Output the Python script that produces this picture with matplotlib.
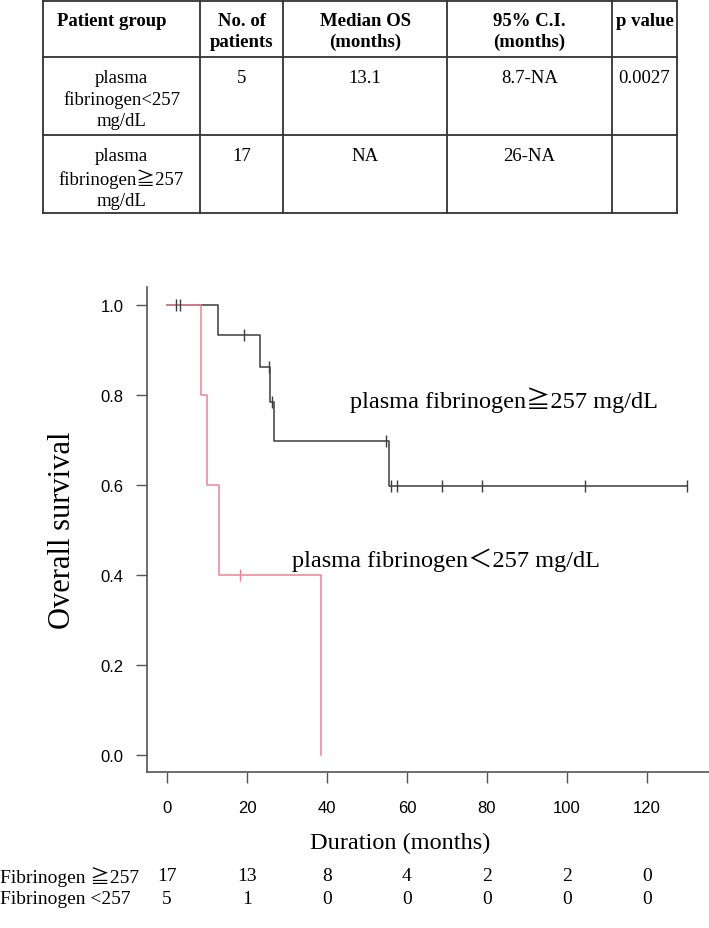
import matplotlib
matplotlib.use("Agg")

import matplotlib.pyplot as plt

# ── data ──────────────────────────────────────────────────────────────────────
TABLE_HEADER = ["Patient group", "No. of\npatients", "Median OS\n(months)",
                "95% C.I.\n(months)", "p value"]
TABLE_ROW_LOW  = ["plasma\nfibrinogen<257\nmg/dL", "5", "13.1", "8.7-NA", "0.0027"]
TABLE_ROW_HIGH = ["plasma\nfibrinogen≧257\nmg/dL", "17", "NA", "26-NA", ""]

# Kaplan-Meier steps (months, survival)
HIGH_T = [0, 12.8, 23.3, 25.8, 26.8, 55.5, 130]
HIGH_S = [1.0, 0.933, 0.862, 0.784, 0.697, 0.597, 0.597]
HIGH_CENS_T = [2.3, 3.2, 19.3, 25.6, 26.2, 54.7, 55.9, 57.5, 68.7, 78.7, 104.5, 130]
HIGH_CENS_S = [1.0, 1.0, 0.933, 0.862, 0.784, 0.697, 0.597, 0.597, 0.597, 0.597, 0.597, 0.597]

LOW_T = [0, 8.5, 10.0, 13.0, 38.5]
LOW_S = [1.0, 0.8, 0.6, 0.4, 0.0]
LOW_CENS_T = [18.3]
LOW_CENS_S = [0.4]

RISK_TIMES = [0, 20, 40, 60, 80, 100, 120]
RISK_HIGH  = [17, 13, 8, 4, 2, 2, 0]
RISK_LOW   = [5, 1, 0, 0, 0, 0, 0]

# ── style ─────────────────────────────────────────────────────────────────────
W, H = 709, 929
SERIF = ["Liberation Serif", "Noto Sans CJK JP", "DejaVu Serif"]
SANS = ["Liberation Sans", "DejaVu Sans"]
BLACK_LINE = "#3c3c3c"
RED_LINE = "#ef8293"
GRID = "#333333"

fig = plt.figure(figsize=(W / 100, H / 100), dpi=100)

# ── summary table (pixel coordinates) ─────────────────────────────────────────
tab = fig.add_axes([0, 0, 1, 1])
tab.set_xlim(0, W)
tab.set_ylim(H, 0)
tab.axis("off")

col_x = [43, 200, 283, 447, 612, 677]
row_y = [2, 58, 136, 214]
for x in col_x:
    tab.plot([x, x], [row_y[0], row_y[-1]], color=GRID, lw=1.3)
for y in row_y:
    tab.plot([col_x[0], col_x[-1]], [y, y], color=GRID, lw=1.3)

for j, label in enumerate(TABLE_HEADER):
    if j == 0:
        tab.text(col_x[0] + 14, row_y[0] + 11, label, ha="left", va="top",
                 family=SERIF, fontsize=13.5, fontweight="bold", linespacing=1.3)
    else:
        tab.text((col_x[j] + col_x[j + 1]) / 2, row_y[0] + 11, label, ha="center",
                 va="top", family=SERIF, fontsize=13.5, fontweight="bold",
                 linespacing=1.3)

for r, row in enumerate([TABLE_ROW_LOW, TABLE_ROW_HIGH]):
    for j, val in enumerate(row):
        tab.text((col_x[j] + col_x[j + 1]) / 2, row_y[r + 1] + 12, val,
                 ha="center", va="top", family=SERIF, fontsize=13.5,
                 linespacing=1.3)

# ── survival curves ───────────────────────────────────────────────────────────
ax = fig.add_axes([147 / W, 1 - 773 / H, (W - 147) / W, (773 - 288) / H])
ax.set_xlim(-5, 135.5)
ax.set_ylim(-0.0378, 1.04)

ax.step(HIGH_T, HIGH_S, where="post", color=BLACK_LINE, lw=1.1)
ax.step(LOW_T, LOW_S, where="post", color=RED_LINE, lw=1.1)
ax.plot(HIGH_CENS_T, HIGH_CENS_S, ls="none", marker="|", ms=8, mew=1.0,
        color=BLACK_LINE)
ax.plot(LOW_CENS_T, LOW_CENS_S, ls="none", marker="|", ms=8, mew=1.0,
        color=RED_LINE)

ax.text(45.75, 0.791, "plasma fibrinogen≧257 mg/dL", family=SERIF,
        fontsize=17.5, ha="left", va="center")
ax.text(69.75, 0.436, "plasma fibrinogen＜257 mg/dL", family=SERIF,
        fontsize=17.5, ha="center", va="center")

ax.set_xticks(RISK_TIMES)
ax.set_yticks([0.0, 0.2, 0.4, 0.6, 0.8, 1.0])
ax.set_yticklabels([f"{v:.1f}" for v in [0.0, 0.2, 0.4, 0.6, 0.8, 1.0]])
for lab in ax.get_xticklabels() + ax.get_yticklabels():
    lab.set_family(SANS)
    lab.set_fontsize(12)
ax.tick_params(axis="both", length=8, width=1.0, color="#555555")
ax.tick_params(axis="x", pad=12)
ax.tick_params(axis="y", pad=9)
for side in ["top", "right"]:
    ax.spines[side].set_visible(False)
for side in ["left", "bottom"]:
    ax.spines[side].set_color("#555555")
    ax.spines[side].set_linewidth(1.2)

fig.text(62 / W, 1 - 530 / H, "Overall survival", rotation=90, ha="center",
         va="center", family=SERIF, fontsize=22)
fig.text(400 / W, 1 - 843 / H, "Duration (months)", ha="center", va="center",
         family=SERIF, fontsize=17.5)

# ── numbers at risk ───────────────────────────────────────────────────────────
fig.text(0, 1 - 877 / H, "Fibrinogen ≧257", ha="left", va="center",
         family=SERIF, fontsize=14)
fig.text(0, 1 - 900 / H, "Fibrinogen <257", ha="left", va="center",
         family=SERIF, fontsize=14)
for t, nh, nl in zip(RISK_TIMES, RISK_HIGH, RISK_LOW):
    xf = ax.transData.transform((t, 0))[0] / W
    fig.text(xf, 1 - 877 / H, str(nh), ha="center", va="center",
             family=SERIF, fontsize=14)
    fig.text(xf, 1 - 900 / H, str(nl), ha="center", va="center",
             family=SERIF, fontsize=14)

fig.savefig("out.png", dpi=100)
